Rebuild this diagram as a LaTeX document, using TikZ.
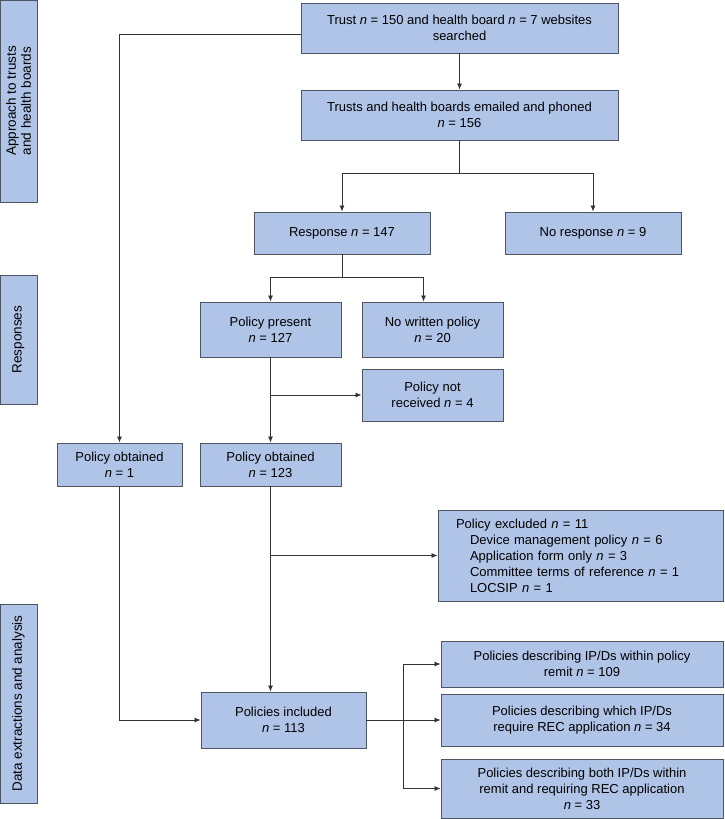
\documentclass[tikz,border=0pt]{standalone}
\usepackage{fontspec}
\setmainfont{Liberation Sans}
\usetikzlibrary{arrows.meta}

\definecolor{boxfill}{RGB}{176,196,231}
\definecolor{boxline}{RGB}{78,86,100}

\begin{document}
\begin{tikzpicture}[x=1pt,y=-1pt, % pixel units, y pointing down
        box/.style={draw=boxline,fill=boxfill,line width=0.9pt,align=center,
            inner sep=2pt,font=\fontsize{13}{16}\selectfont},
        side/.style={box,rotate=90,minimum height=37pt,anchor=center,
            font=\fontsize{13.5}{15}\selectfont},
        conn/.style={draw=black!80,line width=0.8pt},
        >={Latex[length=6pt,width=5pt]}]
    \useasboundingbox (0,0) rectangle (725,819);

    % Stage labels on the left
    \node[side,minimum width=202pt] (stageA) at (18.5,101) {Approach to trusts\\and health boards};
    \node[side,minimum width=129pt] (stageB) at (18.5,339.5) {Responses};
    \node[side,minimum width=199pt] (stageC) at (18.5,703.5) {Data extractions and analysis};

    % Approach to trusts and health boards
    \node[box,minimum width=317pt,minimum height=50pt] (trust) at (459.5,28)
        {Trust \textit{n} = 150 and health board \textit{n} = 7 websites\\searched};
    \node[box,minimum width=317pt,minimum height=50pt] (email) at (459.5,115)
        {Trusts and health boards emailed and phoned\\\textit{n} = 156};

    % Responses
    \node[box,minimum width=176pt,minimum height=42pt] (resp) at (342,233) {Response \textit{n} = 147};
    \node[box,minimum width=176pt,minimum height=42pt] (noresp) at (593,233) {No response \textit{n} = 9};
    \node[box,minimum width=141pt,minimum height=55pt] (present) at (270.5,329.5) {Policy present\\\textit{n} = 127};
    \node[box,minimum width=141pt,minimum height=55pt] (nowritten) at (432.5,329.5) {No written policy\\\textit{n} = 20};
    \node[box,minimum width=141pt,minimum height=52pt] (notrec) at (432.5,395) {Policy not\\received \textit{n} = 4};
    \node[box,minimum width=125pt,minimum height=43pt] (obtA) at (119.5,464.5) {Policy obtained\\\textit{n} = 1};
    \node[box,minimum width=141pt,minimum height=43pt] (obtB) at (270.5,464.5) {Policy obtained\\\textit{n} = 123};

    % Data extractions and analysis
    \node[box,text width=249pt,inner xsep=18pt,minimum height=91pt,align=left] (excl) at (580.5,555.5)
        {Policy excluded \textit{n} = 11\\
        \hspace*{14pt}Device management policy \textit{n} = 6\\
        \hspace*{14pt}Application form only \textit{n} = 3\\
        \hspace*{14pt}Committee terms of reference \textit{n} = 1\\
        \hspace*{14pt}LOCSIP \textit{n} = 1};
    \node[box,minimum width=165pt,minimum height=56pt] (incl) at (283.5,720) {Policies included\\\textit{n} = 113};
    \node[box,minimum width=282pt,minimum height=46pt] (remit) at (582,664) {Policies describing IP/Ds within policy\\remit \textit{n} = 109};
    \node[box,minimum width=282pt,minimum height=52pt] (rec) at (582,720) {Policies describing which IP/Ds\\require REC application \textit{n} = 34};
    \node[box,minimum width=282pt,minimum height=59pt] (both) at (582,788.5) {Policies describing both IP/Ds within\\remit and requiring REC application\\\textit{n} = 33};

    % Split points
    \coordinate (splitA) at (459.5,173);
    \coordinate (splitB) at (342,277);
    \coordinate (splitC) at (403,720);

    % Connectors
    \draw[conn,->] (trust) -- (email);
    \draw[conn] (email) -- (splitA);
    \draw[conn,->] (splitA) -| (resp);
    \draw[conn,->] (splitA) -| (noresp);
    \draw[conn] (resp) -- (splitB);
    \draw[conn,->] (splitB) -| (present);
    \draw[conn,->] (splitB) -| ([xshift=-9pt]nowritten.north);
    \draw[conn,->] (present) -- (obtB);
    \draw[conn,->] (present.south |- notrec.west) -- (notrec.west);
    \draw[conn,->] ([yshift=-6pt]trust.west) -| (obtA);
    \draw[conn,->] (obtA) |- (incl);
    \draw[conn,->] (obtB) -- (obtB.south |- incl.north);
    \draw[conn,->] (obtB.south |- excl.west) -- (excl.west);
    \draw[conn] (incl) -- (splitC);
    \draw[conn,->] (splitC) |- (remit);
    \draw[conn,->] (splitC) -- (rec);
    \draw[conn,->] (splitC) |- (both);
\end{tikzpicture}
\end{document}
